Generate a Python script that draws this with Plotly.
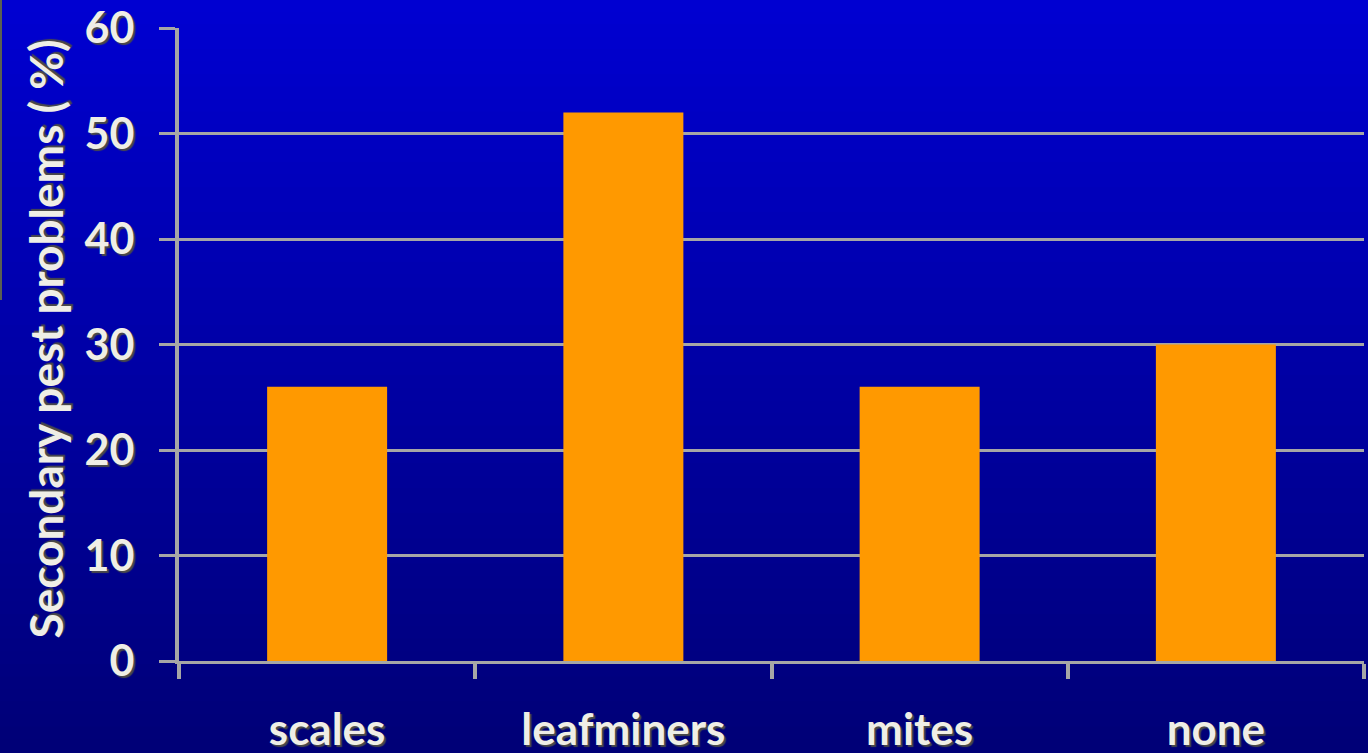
import plotly.graph_objects as go

categories = ["scales", "leafminers", "mites", "none"]
values = [26, 52, 26, 30]
y_ticks = [0, 10, 20, 30, 40, 50, 60]
y_title = "Secondary pest problems ( %)"

TEXT = "#EFEEE6"
GRID = "#A6A6A6"
FONT = "Lato"

fig = go.Figure()
fig.add_trace(go.Bar(x=categories, y=values, marker=dict(color="#FF9900", line=dict(width=0)),
                     width=0.405))

# vertical gradient background over the whole figure (style only)
W = 1368.0
H = 753.0
pleft, pright = 179.0, 1364.0
ptop, pbot = 28.0, 661.0
ph = pbot - ptop
pw = pright - pleft
n = 60
top = (0, 0, 210)
bot = (0, 0, 118)
for i in range(n):
    py0 = H * i / n
    py1 = H * (i + 1) / n
    f = (i + 0.5) / n
    c = tuple(int(round(top[k] + (bot[k] - top[k]) * f)) for k in range(3))
    y1 = (pbot - py0) / ph
    y0 = (pbot - py1) / ph
    fig.add_shape(type="rect", xref="paper", yref="paper", x0=-1, x1=2,
                  y0=y0 - 0.002, y1=y1 + 0.002, layer="below",
                  line=dict(width=0), fillcolor="rgb(%d,%d,%d)" % c)

# thin slide-edge strip at the far left
fig.add_shape(type="rect", xref="paper", yref="paper", x0=(0 - pleft) / pw, x1=(2 - pleft) / pw,
              y0=(pbot - 300) / ph, y1=(pbot + 0) / ph + 0.1, layer="below",
              line=dict(width=0), fillcolor="#5b5f52")

shadow = "2px 2px 1px #4a4a4a"
fig.update_layout(
    width=1368, height=753,
    margin=dict(l=179, r=4, t=28, b=92, autoexpand=False),
    paper_bgcolor="#000090", plot_bgcolor="rgba(0,0,0,0)",
    showlegend=False, bargap=0.595,
    font=dict(family=FONT, color=TEXT, size=30, weight="bold", shadow=shadow),
)
fig.update_yaxes(range=[0, 60], tickvals=y_ticks, showgrid=True, gridcolor=GRID, gridwidth=2.5,
                 showline=True, linecolor=GRID, linewidth=4, ticks="outside", ticklen=16,
                 tickwidth=2.5, tickcolor=GRID, ticklabelstandoff=16, automargin=False,
                 tickfont=dict(family=FONT, size=43, color=TEXT, weight="bold", shadow=shadow),
                 zeroline=False)
fig.update_xaxes(showline=True, linecolor=GRID, linewidth=3, ticks="outside", tickson="boundaries",
                 ticklen=15, tickwidth=3.5, tickcolor=GRID, ticklabelstandoff=28, automargin=False,
                 tickfont=dict(family=FONT, size=44, color=TEXT, weight="bold", shadow=shadow))
fig.add_annotation(text=y_title, xref="paper", yref="paper", x=0, y=0.5, xanchor="center",
                   yanchor="middle", xshift=-134, yshift=5, textangle=-90, showarrow=False,
                   font=dict(family=FONT, size=46, color=TEXT, weight="bold", shadow=shadow))

fig.write_html("out.html")
